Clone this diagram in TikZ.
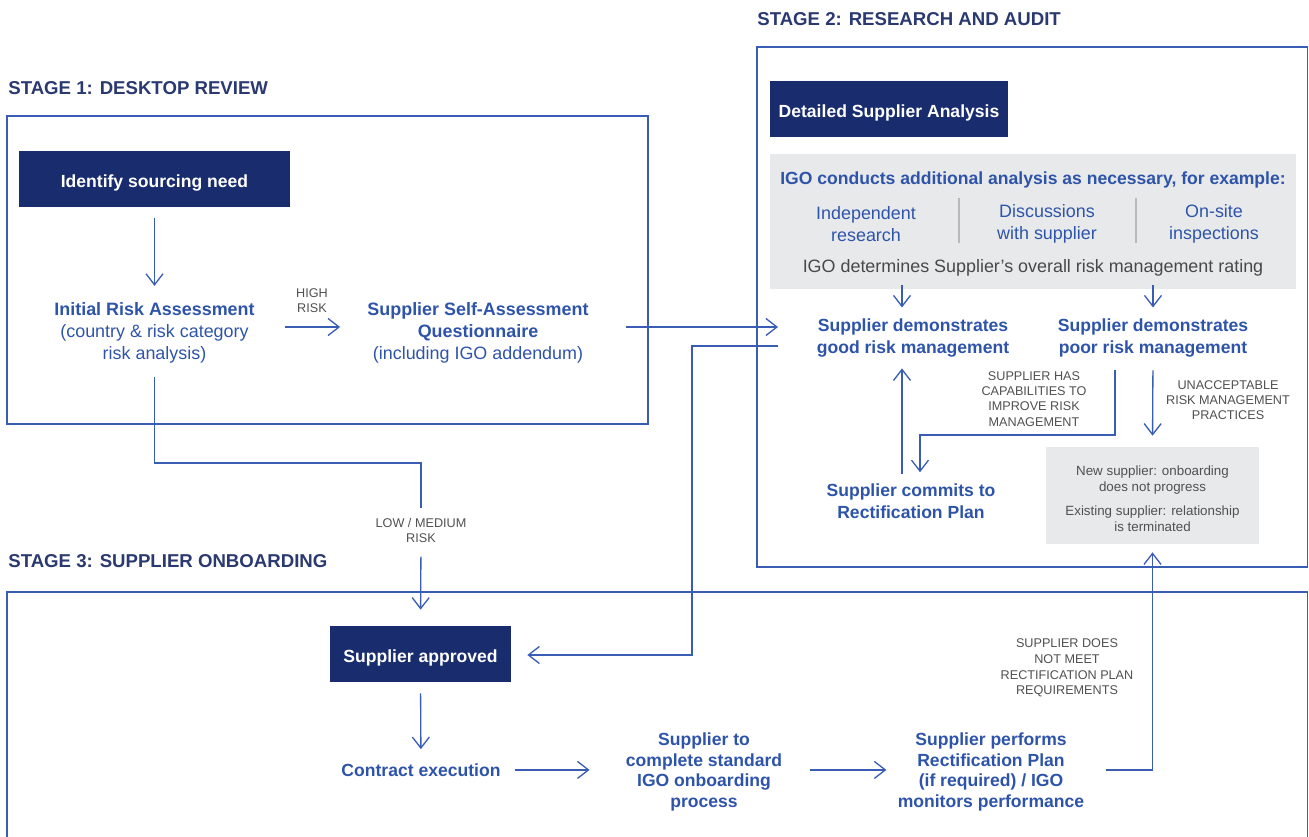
\documentclass[tikz,border=0pt]{standalone}
\usepackage{fontspec}
\setmainfont{Liberation Sans}
\usetikzlibrary{arrows.meta}
\definecolor{navy}{RGB}{24,44,110}
\definecolor{titlenavy}{RGB}{42,57,112}
\definecolor{textblue}{RGB}{46,84,170}
\definecolor{lineblue}{RGB}{57,92,180}
\definecolor{labelgrey}{RGB}{80,80,80}
\definecolor{lightgrey}{RGB}{232,233,235}
\definecolor{dividergrey}{RGB}{185,185,185}

\begin{document}
\begin{tikzpicture}[x=0.02cm,y=-0.02cm,
  stageframe/.style={draw=lineblue,line width=0.75pt},
  link/.style={draw=lineblue,line width=0.75pt},
  arr/.style={link,-{Straight Barb[length=2.2mm,width=3.4mm]}},
  darkbox/.style={fill=navy,text=white,font=\fontsize{10}{12}\selectfont\bfseries,minimum height=1.12cm,inner sep=0pt,text height=9.8pt,text depth=0pt},
  greybox/.style={fill=lightgrey,inner sep=0pt},
  bluetxt/.style={text=textblue,align=center,inner sep=0pt,yshift=-1.1pt,font=\fontsize{10.2}{12.75}\selectfont},
  bluebold/.style={text=textblue,align=center,inner sep=0pt,yshift=-1.1pt,font=\fontsize{10}{12.4}\selectfont\bfseries},
  greylbl/.style={text=labelgrey,align=center,inner sep=0pt,yshift=-0.6pt,font=\fontsize{7.2}{8.6}\selectfont},
  stagetitle/.style={text=titlenavy,anchor=west,inner sep=0pt,font=\fontsize{10.6}{12}\selectfont\bfseries}]
\useasboundingbox (0,0) rectangle (1309,837);

\node[stagetitle] (title1) at (8,88) {STAGE 1: DESKTOP REVIEW};
\node[stagetitle] (title2) at (757,19) {STAGE 2: RESEARCH AND AUDIT};
\node[stagetitle] (title3) at (8,561) {STAGE 3: SUPPLIER ONBOARDING};

\draw[stageframe] (7,116) rectangle (648,424);
\draw[stageframe] (757,47) rectangle (1307.5,567);
\draw[stageframe] (7,850) -- (7,592) -- (1307.5,592) -- (1307.5,850);

\node[darkbox,minimum width=5.42cm] (ident) at (154.5,179) {Identify sourcing need};
\node[bluetxt] (init) at (154.5,331) {\textbf{Initial Risk Assessment}\\(country \& risk category\\risk analysis)};
\node[greylbl] (high) at (312,299.5) {HIGH\\RISK};
\node[bluetxt] (ssaq) at (478,331) {\textbf{Supplier Self-Assessment}\\\textbf{Questionnaire}\\(including IGO addendum)};

\node[darkbox,minimum width=4.76cm] (detail) at (889,109) {Detailed Supplier Analysis};
\node[greybox,minimum width=10.52cm,minimum height=2.7cm] (analysis) at (1033,221.5) {};
\node[bluebold] (conducts) at (1033,178) {IGO conducts additional analysis as necessary, for example:};
\node[bluetxt] (indep) at (866,222) {Independent\\research};
\node[bluetxt] (discuss) at (1047,222) {Discussions\\with supplier};
\node[bluetxt] (onsite) at (1214,222) {On-site\\inspections};
\draw[dividergrey,line width=0.6pt] (959,198) -- (959,243);
\draw[dividergrey,line width=0.6pt] (1136,198) -- (1136,243);
\node[bluetxt,text=labelgrey!90!black] (rating) at (1033,266) {IGO determines Supplier’s overall risk management rating};
\node[bluebold] (good) at (913,336) {Supplier demonstrates\\good risk management};
\node[bluebold] (poor) at (1153,336) {Supplier demonstrates\\poor risk management};
\node[greylbl] (capab) at (1034,398) {SUPPLIER HAS\\CAPABILITIES TO\\IMPROVE RISK\\MANAGEMENT};
\node[greylbl] (unacc) at (1228,399) {UNACCEPTABLE\\RISK MANAGEMENT\\PRACTICES};
\node[bluebold] (commits) at (911,499) {Supplier commits to\\Rectification Plan};
\node[greybox,minimum width=4.26cm,minimum height=1.94cm] (term) at (1152.5,495.5) {};
\node[text=labelgrey,align=center,inner sep=0pt,font=\fontsize{7.6}{9.1}\selectfont] (termtext) at (1152.5,499) {New supplier: onboarding\\does not progress\\[4.5pt]Existing supplier: relationship\\is terminated};

\node[greylbl] (lowmed) at (421,529) {LOW / MEDIUM\\RISK};
\node[darkbox,minimum width=3.62cm] (approved) at (420.5,654) {Supplier approved};
\node[bluebold] (contract) at (421,768) {Contract execution};
\node[bluebold,font=\fontsize{10}{11.9}\selectfont\bfseries] (onboard) at (704,770) {Supplier to\\complete standard\\IGO onboarding\\process};
\node[bluebold,font=\fontsize{10}{11.9}\selectfont\bfseries] (perform) at (991,770) {Supplier performs\\Rectification Plan\\(if required) / IGO\\monitors performance};
\node[greylbl,font=\fontsize{7.2}{9}\selectfont] (notmeet) at (1067,667) {SUPPLIER DOES\\NOT MEET\\RECTIFICATION PLAN\\REQUIREMENTS};

\coordinate (goodin) at (778,327);
\coordinate (goodout) at (778,346);
\coordinate (turn) at (692,655);
\coordinate (bend) at (421,463);
\coordinate (gx) at (902,300);
\coordinate (px) at (1115,435);
\coordinate (knee) at (920,435);

\draw[arr,shorten <=0.22cm,shorten >=0.32cm] (ident.south) -- (init.north);
\draw[arr,shorten <=0.6cm,shorten >=0.54cm] (init.east |- goodin) -- (ssaq.west |- goodin);
\draw[arr,shorten <=0.74cm] (ssaq.east |- goodin) -- (goodin);
\draw[link,shorten <=0.26cm,shorten >=0.2cm] (init.south) |- (bend) -- (lowmed.north);
\draw[arr,shorten <=0.28cm,shorten >=0.32cm] (lowmed.south) -- (approved.north);
\draw[arr,shorten >=0.32cm] (goodout) -| (turn) -- (approved.east |- turn);
\draw[arr,shorten <=0.22cm,shorten >=0.28cm] (approved.south) -- (contract.north);
\draw[arr,shorten <=0.28cm,shorten >=0.72cm] (contract.east) -- (onboard.west |- contract.east);
\draw[arr,shorten <=0.56cm,shorten >=0.22cm] (onboard.east |- contract.east) -- (perform.west |- contract.east);
\draw[arr,shorten <=0.42cm,shorten >=0.16cm] (perform.east |- contract.east) -| (term.south);

\draw[arr,shorten <=0.16cm,shorten >=0.22cm] (rating.south -| gx) -- (good.north -| gx);
\draw[arr,shorten <=0.16cm,shorten >=0.22cm] (rating.south -| poor) -- (poor.north);
\draw[arr,shorten <=0.18cm,shorten >=0.22cm] (commits.north -| gx) -- (good.south -| gx);
\draw[arr,shorten <=0.26cm,shorten >=0.22cm] (poor.south -| px) -- (px) -- (knee) -- (commits.north -| knee);
\draw[arr,shorten <=0.26cm,shorten >=0.22cm] (poor.south) -- (term.north);
\end{tikzpicture}
\end{document}
